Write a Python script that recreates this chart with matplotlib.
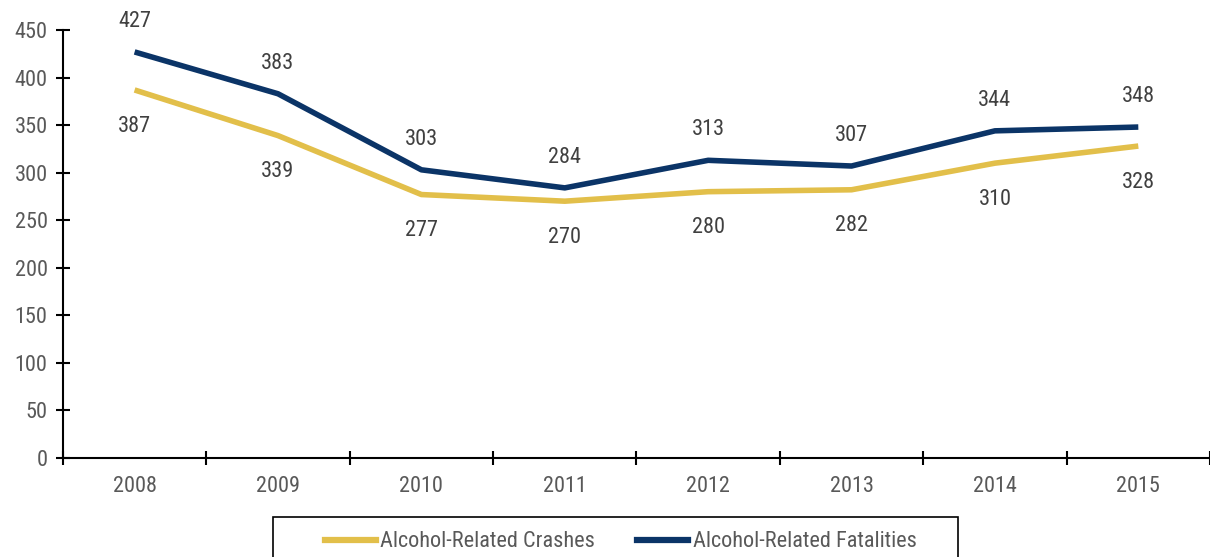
import matplotlib.pyplot as plt
from matplotlib.lines import Line2D
from matplotlib.patches import Rectangle

years = ["2008", "2009", "2010", "2011", "2012", "2013", "2014", "2015"]
crashes = [387, 339, 277, 270, 280, 282, 310, 328]
fatalities = [427, 383, 303, 284, 313, 307, 344, 348]

crash_color = "#E2BF4A"
fatal_color = "#0B3467"
label_color = "#404040"
tick_color = "#595959"

plt.rcParams['font.family'] = ['Roboto Condensed', 'Liberation Sans', 'DejaVu Sans']

fig = plt.figure(figsize=(12.1, 5.57), dpi=100)
ax = fig.add_axes([0.052, 0.178, 0.948, 0.768])

x = list(range(len(years)))
ax.plot(x, crashes, color=crash_color, linewidth=4, solid_capstyle='butt')
ax.plot(x, fatalities, color=fatal_color, linewidth=4, solid_capstyle='butt')

for xi, v in zip(x, fatalities):
    ax.annotate(str(v), (xi, v), xytext=(0, 22), textcoords='offset points',
                ha='center', va='center', fontsize=16, color=label_color)
for xi, v in zip(x, crashes):
    ax.annotate(str(v), (xi, v), xytext=(0, -26), textcoords='offset points',
                ha='center', va='center', fontsize=16, color=label_color)

ax.set_xlim(-0.5, len(years) - 0.5)
ax.set_ylim(0, 450)
ax.set_yticks(range(0, 451, 50))
ax.set_xticks(x)
ax.set_xticklabels(years)
ax.set_xticks([i + 0.5 for i in range(-1, len(years))], minor=True)
ax.tick_params(axis='x', which='major', length=0, pad=13, labelsize=16, labelcolor=tick_color)
ax.tick_params(axis='x', which='minor', direction='inout', length=10, width=1.5, color='black')
ax.tick_params(axis='y', direction='inout', length=10, width=1.5, color='black',
               labelsize=16, labelcolor=tick_color, pad=6)

for side in ['top', 'right']:
    ax.spines[side].set_visible(False)
for side in ['left', 'bottom']:
    ax.spines[side].set_linewidth(1.5)
    ax.spines[side].set_color('black')

# legend box is wider than its content, so draw the frame separately
handles = [Line2D([], [], color=crash_color, linewidth=4.5),
           Line2D([], [], color=fatal_color, linewidth=4.5)]
leg = fig.legend(handles, ["Alcohol-Related Crashes", "Alcohol-Related Fatalities"],
                 loc='upper center', bbox_to_anchor=(0.513, 0.066), ncol=2,
                 fontsize=16, frameon=False, handlelength=2.3,
                 handletextpad=0.2, columnspacing=1.9, borderpad=0.5,
                 borderaxespad=0)
for t in leg.get_texts():
    t.set_color(tick_color)
fig.patches.append(Rectangle((273 / 1210, -0.05), 685 / 1210, 0.05 + 40 / 557,
                             transform=fig.transFigure, fill=False,
                             edgecolor='black', linewidth=1.2))

plt.savefig("out.png", dpi=100)
